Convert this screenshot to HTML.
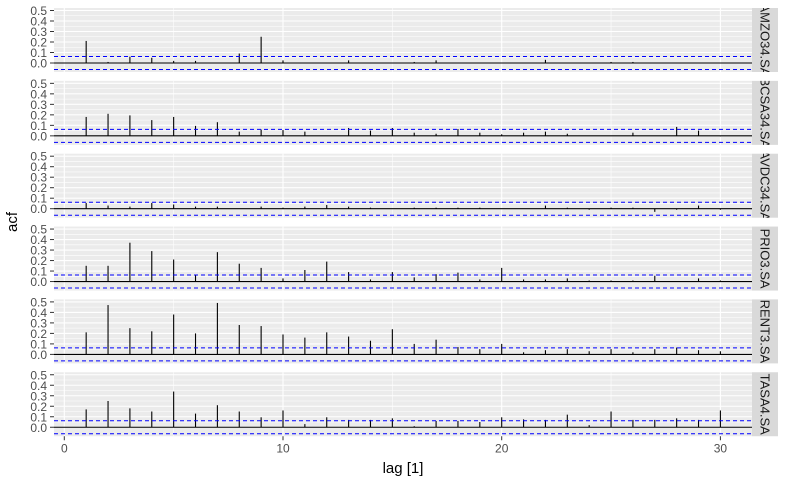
<!DOCTYPE html>
<html><head><meta charset="utf-8"><style>
body{margin:0;background:#fff;}
svg text{font-family:"Liberation Sans",Arial,sans-serif;}
</style></head><body>
<svg id="chart" width="787" height="486" xmlns="http://www.w3.org/2000/svg"></svg>
<script>
const seriesNames = ["AMZO34.SA","BCSA34.SA","AVDC34.SA","PRIO3.SA","RENT3.SA","TASA4.SA"];
const lags = [1,2,3,4,5,6,7,8,9,10,11,12,13,14,15,16,17,18,19,20,21,22,23,24,25,26,27,28,29,30];
const acfAMZO = [0.21,0.01,0.06,0.05,0.02,0.02,0,0.09,0.25,0.025,0,0,0.025,0,0,0.01,0.025,0,0,0,0,0.03,0,0,0.01,0.01,0,0,0,0];
const acfBCSA = [0.18,0.21,0.195,0.15,0.18,0.095,0.13,0.04,0.06,0.055,0.04,0,0.075,0.05,0.075,0.03,0.02,0.065,0.03,0.015,0.03,0.04,0.02,0,0,0.03,0,0.085,0.05,-0.005];
const acfAVDC = [0.055,0.03,0.02,0.055,0.04,0.02,0.02,0,0.02,0.01,0.02,0.035,0.02,0.01,0,0.01,0.01,0.01,0.01,0,0,0.03,0.01,-0.01,0.01,0.01,-0.03,-0.01,0.03,-0.01];
const acfPRIO = [0.15,0.15,0.37,0.29,0.21,0.06,0.28,0.17,0.13,0.03,0.11,0.19,0.09,0.02,0.09,0.04,0.07,0.085,0.02,0.13,0.02,0.02,0.03,0.01,0.01,0.01,0.055,0,0.03,0.01];
const acfRENT = [0.21,0.47,0.25,0.22,0.38,0.20,0.49,0.28,0.27,0.19,0.16,0.21,0.17,0.13,0.24,0.10,0.14,0.07,0.05,0.10,0.02,0.04,0.05,0.03,0.05,0.02,0.05,0.065,0.04,0.03];
const acfTASA = [0.17,0.25,0.18,0.15,0.34,0.13,0.21,0.15,0.095,0.16,0.03,0.095,0.07,0.07,0.085,0.01,0.06,0.06,0.05,0.095,0.075,0.07,0.12,0.02,0.15,0.07,0.07,0.085,0.07,0.16];
const allSeries = [acfAMZO,acfBCSA,acfAVDC,acfPRIO,acfRENT,acfTASA];
const ciBound = 0.062;
const yTicks = [0,0.1,0.2,0.3,0.4,0.5];
const xTicks = [0,10,20,30];

const NS="http://www.w3.org/2000/svg";
const svg=document.getElementById('chart');
const PL=54,PR=752,TOP0=8,PITCH=72.85,PH=64;
const xS=v=>64.3+v*21.87;
const yS=(i,v)=>TOP0+i*PITCH+55-v*105;
function mk(tag,attrs,parent){const e=document.createElementNS(NS,tag);for(const k in attrs)e.setAttribute(k,attrs[k]);(parent||svg).appendChild(e);return e;}

seriesNames.forEach((name,i)=>{
  const top=TOP0+i*PITCH;
  const g=mk('g',{});
  
  
  const bg=mk('rect',{x:PL,y:top,width:PR-PL,height:PH,fill:'#ebebeb'},g);
  
  
  // minor y grid
  for(let v=0.05;v<0.5;v+=0.1){mk('line',{x1:PL,x2:PR,y1:yS(i,v),y2:yS(i,v),stroke:'#fff','stroke-width':0.55},g);}
  [5,15,25].forEach(v=>mk('line',{x1:xS(v),x2:xS(v),y1:top,y2:top+PH,stroke:'#fff','stroke-width':0.55},g));
  yTicks.forEach(v=>mk('line',{x1:PL,x2:PR,y1:yS(i,v),y2:yS(i,v),stroke:'#fff','stroke-width':1.1},g));
  xTicks.forEach(v=>mk('line',{x1:xS(v),x2:xS(v),y1:top,y2:top+PH,stroke:'#fff','stroke-width':1.1},g));
  // zero line
  mk('line',{x1:PL,x2:PR,y1:yS(i,0),y2:yS(i,0),stroke:'#000','stroke-width':1.1},g);
  // bars
  allSeries[i].forEach((v,j)=>{
    const b=mk('line',{x1:xS(lags[j]),x2:xS(lags[j]),y1:yS(i,0),y2:yS(i,v),stroke:'#000','stroke-width':1.1},g);
    
    
  });
  // CI lines
  [ciBound,-ciBound].forEach(c=>{
    const l=mk('line',{x1:PL,x2:PR,y1:yS(i,c),y2:yS(i,c),stroke:'#0000ff','stroke-width':1,'stroke-dasharray':'4,3'},g);
    
    
  });
  // y ticks
  yTicks.forEach(v=>{
    mk('line',{x1:50,x2:54,y1:yS(i,v),y2:yS(i,v),stroke:'#333','stroke-width':1},g);
    const t=mk('text',{x:47,y:yS(i,v)+4.5,'text-anchor':'end','font-size':12,fill:'#4d4d4d'},g);
    t.textContent=v.toFixed(1);
    
    
  });
  // strip
  const cp=mk('clipPath',{id:'clip'+i},g);
  mk('rect',{x:752,y:top,width:26,height:PH},cp);
  const s=mk('rect',{x:752,y:top,width:26,height:PH,fill:'#d9d9d9'},g);
  
  
  const st=mk('text',{x:0,y:0,'text-anchor':'middle','font-size':13,fill:'#1a1a1a','clip-path':'url(#clip'+i+')'},g);
  const tg=mk('g',{'clip-path':'url(#clip'+i+')'},g);
  tg.appendChild(st);
  st.removeAttribute('clip-path');
  st.setAttribute('transform','translate('+(760.5)+','+(top+PH/2)+') rotate(90)');
  st.textContent=name;
  
  
});
const bottom=TOP0+5*PITCH+PH;
xTicks.forEach(v=>{
  mk('line',{x1:xS(v),x2:xS(v),y1:bottom,y2:bottom+4,stroke:'#333','stroke-width':1});
  const t=mk('text',{x:xS(v),y:bottom+16,'text-anchor':'middle','font-size':12,fill:'#4d4d4d'});
  t.textContent=v;
  
  
});
const xt=mk('text',{x:403,y:473,'text-anchor':'middle','font-size':15,fill:'#000'});
xt.textContent='lag [1]';


const yt=mk('text',{x:0,y:0,'text-anchor':'middle','font-size':15,fill:'#000',transform:'translate(17,222) rotate(-90)'});
yt.textContent='acf';


</script>
</body></html>
